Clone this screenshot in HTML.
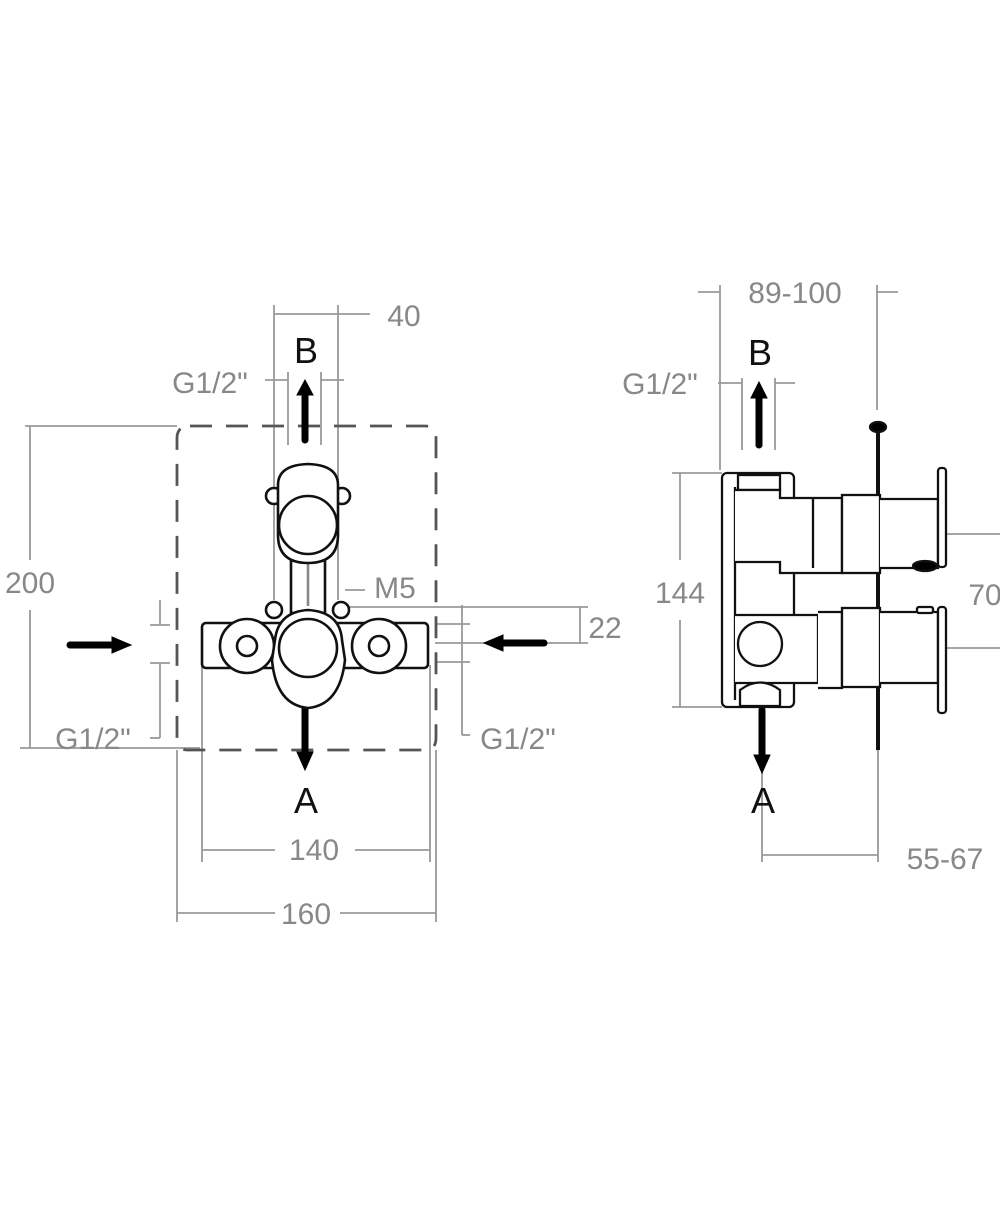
<!DOCTYPE html>
<html><head><style>body{margin:0;background:#fff}svg{display:block}text{font-family:"Liberation Sans",sans-serif}</style></head><body>
<svg width="1000" height="1208" viewBox="0 0 1000 1208" xmlns="http://www.w3.org/2000/svg">
<g stroke="#999" stroke-width="1.8" fill="none">
<line x1="274" y1="305" x2="274" y2="600"/><line x1="338" y1="305" x2="338" y2="600"/>
<line x1="274" y1="314" x2="370" y2="314"/>
<line x1="288" y1="372" x2="288" y2="445"/><line x1="321" y1="372" x2="321" y2="445"/>
<line x1="265" y1="380" x2="288" y2="380"/><line x1="321" y1="380" x2="344" y2="380"/>
<line x1="25" y1="426" x2="177" y2="426"/><line x1="20" y1="748" x2="200" y2="748"/>
<line x1="30" y1="426" x2="30" y2="560"/><line x1="30" y1="610" x2="30" y2="748"/>
<line x1="160" y1="600" x2="160" y2="625"/><line x1="150" y1="625" x2="170" y2="625"/>
<line x1="150" y1="663" x2="170" y2="663"/><line x1="160" y1="663" x2="160" y2="738"/><line x1="150" y1="738" x2="160" y2="738"/>
<line x1="340" y1="607" x2="588" y2="607"/><line x1="435" y1="643" x2="588" y2="643"/>
<line x1="580" y1="607" x2="580" y2="643"/>
<line x1="435" y1="624" x2="470" y2="624"/><line x1="435" y1="662" x2="470" y2="662"/>
<line x1="462" y1="605" x2="462" y2="735"/><line x1="462" y1="735" x2="470" y2="735"/>
<line x1="345" y1="590" x2="365" y2="590"/>
<line x1="202" y1="665" x2="202" y2="862"/><line x1="430" y1="665" x2="430" y2="862"/>
<line x1="202" y1="850" x2="275" y2="850"/><line x1="355" y1="850" x2="430" y2="850"/>
<line x1="177" y1="750" x2="177" y2="922"/><line x1="436" y1="750" x2="436" y2="922"/>
<line x1="177" y1="913" x2="275" y2="913"/><line x1="340" y1="913" x2="436" y2="913"/>
<line x1="720" y1="285" x2="720" y2="470"/><line x1="698" y1="292" x2="720" y2="292"/>
<line x1="877" y1="285" x2="877" y2="410"/><line x1="877" y1="292" x2="898" y2="292"/>
<line x1="742" y1="378" x2="742" y2="450"/><line x1="775" y1="378" x2="775" y2="450"/>
<line x1="718" y1="383" x2="742" y2="383"/><line x1="775" y1="383" x2="795" y2="383"/>
<line x1="672" y1="473" x2="722" y2="473"/><line x1="672" y1="707" x2="722" y2="707"/>
<line x1="680" y1="473" x2="680" y2="560"/><line x1="680" y1="620" x2="680" y2="707"/>
<line x1="895" y1="534" x2="1000" y2="534"/><line x1="895" y1="648" x2="1000" y2="648"/>
<line x1="762" y1="700" x2="762" y2="862"/><line x1="878" y1="740" x2="878" y2="862"/>
<line x1="762" y1="855" x2="878" y2="855"/>
</g>
<path d="M190 426 H425 Q436 426 436 437 V738 Q436 750 425 750 H188 Q177 750 177 738 V438 Q177 426 190 426Z" fill="none" stroke="#555" stroke-width="2.8" stroke-dasharray="22,14"/>
<g fill="#888" font-size="30">
<text x="404" y="326" text-anchor="middle">40</text>
<text x="210" y="393" text-anchor="middle">G1/2"</text>
<text x="30" y="593" text-anchor="middle">200</text>
<text x="395" y="598" text-anchor="middle">M5</text>
<text x="605" y="638" text-anchor="middle">22</text>
<text x="93" y="749" text-anchor="middle">G1/2"</text>
<text x="518" y="749" text-anchor="middle">G1/2"</text>
<text x="314" y="860" text-anchor="middle">140</text>
<text x="306" y="924" text-anchor="middle">160</text>
<text x="795" y="303" text-anchor="middle">89-100</text>
<text x="660" y="394" text-anchor="middle">G1/2"</text>
<text x="680" y="603" text-anchor="middle">144</text>
<text x="985" y="605" text-anchor="middle">70</text>
<text x="945" y="869" text-anchor="middle">55-67</text>
</g>
<g fill="#111" font-size="36">
<text x="306" y="363" text-anchor="middle">B</text>
<text x="306" y="813" text-anchor="middle">A</text>
<text x="760" y="365" text-anchor="middle">B</text>
<text x="763" y="813" text-anchor="middle">A</text>
</g>
<g stroke="#000" stroke-width="7" stroke-linecap="round" fill="#000">
<line x1="305" y1="440" x2="305" y2="392"/><path d="M297 395 L305 380 L313 395Z" stroke-width="1"/>
<line x1="305" y1="705" x2="305" y2="755"/><path d="M297 752 L305 770 L313 752Z" stroke-width="1"/>
<line x1="70" y1="645" x2="115" y2="645"/><path d="M112 637 L131 645 L112 653Z" stroke-width="1"/>
<line x1="544" y1="643" x2="500" y2="643"/><path d="M503 635 L484 643 L503 651Z" stroke-width="1"/>
<line x1="759" y1="445" x2="759" y2="395"/><path d="M751 398 L759 382 L767 398Z" stroke-width="1"/>
<line x1="762" y1="710" x2="762" y2="758"/><path d="M754 755 L762 773 L770 755Z" stroke-width="1"/>
</g>
<g stroke="#111" stroke-width="2.6" fill="#fff">
<rect x="291" y="553" width="34" height="60"/>
<line x1="308" y1="560" x2="308" y2="606" stroke="#888"/>
<circle cx="274" cy="496" r="8"/><circle cx="342" cy="496" r="8"/>
<path d="M278 485 Q278 465 308 464 Q338 465 338 485 V535 Q338 563 308 563 Q278 563 278 535Z"/>
<circle cx="308" cy="525" r="29"/>
<circle cx="274" cy="610" r="8"/><circle cx="341" cy="610" r="8"/>
<rect x="202" y="623" width="226" height="45" rx="4"/>
<circle cx="247" cy="646" r="27"/><circle cx="247" cy="646" r="10"/>
<circle cx="379" cy="646" r="27"/><circle cx="379" cy="646" r="10"/>
<path d="M275 640 Q278 612 308 610 Q340 612 342 640 L345 660 Q340 705 308 708 Q276 705 272 660Z"/>
<circle cx="308" cy="648" r="29"/>
</g>
<g stroke="#111" stroke-width="2.3" fill="#fff">
<line x1="878" y1="427" x2="878" y2="750" stroke-width="4"/>
<rect x="722" y="473" width="72" height="234" rx="5"/>
<path d="M735 487 V700"/>
<rect x="738" y="475" width="42" height="15"/>
<path d="M735 490 H780 V498 H842 V573 H780 V562 H735"/>
<line x1="813" y1="498" x2="813" y2="568"/>
<rect x="842" y="495" width="38" height="78"/>
<path d="M880 499 H938 V568 H880"/>
<rect x="938" y="468" width="8" height="99" rx="3"/>
<path d="M735 615 H818 V683 H735"/>
<path d="M818 612 H842 V688 H818"/>
<rect x="842" y="608" width="38" height="79"/>
<path d="M880 612 H938 V683 H880"/>
<rect x="938" y="607" width="8" height="106" rx="3"/>
<rect x="917" y="607" width="16" height="6" rx="2"/>
<circle cx="760" cy="644" r="22"/>
<path d="M740 690 Q760 675 780 690 V706 H740Z"/>
<ellipse cx="878" cy="427" rx="8" ry="5" fill="#000"/>
<ellipse cx="925" cy="566" rx="12" ry="5" fill="#000"/>
</g>
</svg>
</body></html>
